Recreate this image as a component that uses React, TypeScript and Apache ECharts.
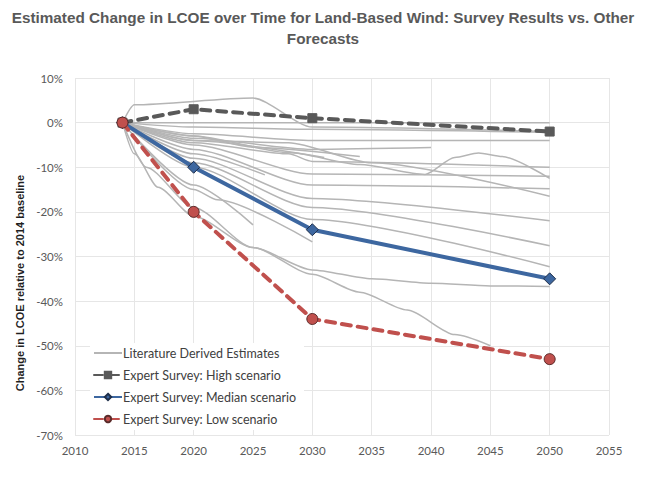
import React, { useEffect, useRef } from "react";
import * as echarts from "echarts";

const titleText =
  "Estimated Change in LCOE over Time for Land-Based Wind: Survey Results vs. Other\nForecasts";
const yAxisTitle = "Change in LCOE relative to 2014 baseline";

const xMin = 2010;
const xMax = 2055;
const xStep = 5;
const yMin = -70;
const yMax = 10;
const yStep = 10;

const litName = "Literature Derived Estimates";
const highName = "Expert Survey: High scenario";
const medianName = "Expert Survey: Median scenario";
const lowName = "Expert Survey: Low scenario";

const surveyYears = [2014, 2020, 2030, 2050];
const highScenario = [0, 3, 1, -2];
const medianScenario = [0, -10, -24, -35];
const lowScenario = [0, -20, -44, -53];

// Literature-derived estimates: [year, % change]
const lit01 = [[2014, 0], [2015, 4], [2025, 5.5], [2030, -1], [2050, -2]];
const lit02 = [[2014, 0], [2050, 0]];
const lit03 = [[2014, 0], [2020, -1], [2030, -1.5], [2050, -2.2]];
const lit04 = [[2014, 0], [2020, -2.5], [2030, -4], [2050, -4]];
const lit05 = [[2014, 0], [2020, -3.5], [2030, -6], [2040, -5.6]];
const lit06 = [[2014, 0], [2020, -4], [2031, -7.8]];
const lit07 = [[2014, 0], [2020, -3], [2025, -5.5], [2034, -7.6]];
const lit08 = [[2014, 0], [2020, -4.5], [2028, -7], [2030, -8.7], [2050, -10]];
const lit09 = [[2014, 0], [2020, -3], [2028, -6.7], [2034, -9.4], [2039.5, -11.6], [2042, -7.8], [2044, -6.8], [2046, -7.6], [2050, -12.5]];
const lit10 = [[2014, 0], [2020, -5], [2030, -11.5], [2050, -12]];
const lit11 = [[2014, 0], [2020, -4], [2028, -4.5], [2035, -9], [2050, -16.5]];
const lit12 = [[2014, 0], [2020, -6], [2030, -14], [2050, -14.8]];
const lit13 = [[2014, 0], [2020, -7], [2026, -11.7]];
const lit14 = [[2014, 0], [2020, -8], [2030, -17], [2050, -22]];
const lit15 = [[2014, 0], [2020, -9], [2030, -19], [2050, -27.6]];
const lit16 = [[2014, 0], [2020, -10], [2030, -21.7], [2050, -32.3]];
const lit17 = [[2014, 0], [2020, -14], [2025, -22.9]];
const lit18 = [[2014, 0], [2020, -15], [2022, -17.3], [2030, -26.7]];
const lit19 = [[2014, 0], [2015, -7], [2017, -14.5], [2020, -21], [2025, -28], [2030, -33], [2035, -35], [2040, -36], [2045, -36.6], [2050, -36.7]];
const lit20 = [[2014, 0], [2016, -10], [2020, -19], [2025, -28], [2030, -34], [2034, -38], [2038, -42], [2042, -47.5], [2045, -50]];

const literatureLines = [
  lit01, lit02, lit03, lit04, lit05, lit06, lit07, lit08, lit09, lit10,
  lit11, lit12, lit13, lit14, lit15, lit16, lit17, lit18, lit19, lit20,
];

const pair = (ys: number[]) => surveyYears.map((x, i) => [x, ys[i]]);

export default function App() {
  const ref = useRef<HTMLDivElement>(null);

  useEffect(() => {
    if (!ref.current) return;
    const chart = echarts.init(ref.current, undefined, { renderer: "svg" });
    const labelFont = "Lato";

    const litSeries = literatureLines.map((d) => ({
      type: "line",
      name: litName,
      data: d,
      symbol: "none",
      smooth: 0.25,
      smoothMonotone: "x",
      lineStyle: { color: "#b5b5b5", width: 1.5 },
      itemStyle: { color: "#b5b5b5" },
      z: 1,
      silent: true,
    }));

    chart.setOption({
      animation: false,
      backgroundColor: "#ffffff",
      title: {
        text: titleText,
        left: "center",
        top: 2,
        textStyle: {
          color: "#595959",
          fontSize: 15.3,
          fontWeight: "bold",
          fontFamily: "Liberation Sans",
          lineHeight: 21,
        },
      },
      grid: { left: 75, right: 37, top: 78, bottom: 42, containLabel: false },
      xAxis: {
        type: "value",
        min: xMin,
        max: xMax,
        interval: xStep,
        axisLine: { show: false },
        axisTick: { show: false },
        axisLabel: {
          color: "#595959",
          fontSize: 11.5,
          fontFamily: labelFont,
          margin: 9,
          formatter: (v: number) => String(v),
        },
        splitLine: { show: true, lineStyle: { color: "#e6e6e6", width: 1 } },
      },
      yAxis: {
        type: "value",
        min: yMin,
        max: yMax,
        interval: yStep,
        axisLine: { show: false },
        axisTick: { show: false },
        axisLabel: {
          color: "#595959",
          fontSize: 11.5,
          fontFamily: labelFont,
          margin: 12,
          formatter: "{value}%",
        },
        splitLine: { show: true, lineStyle: { color: "#e6e6e6", width: 1 } },
      },
      legend: {
        orient: "vertical",
        left: 90,
        top: 343,
        padding: [3, 8, 4, 3],
        backgroundColor: "#ffffff",
        itemWidth: 28,
        itemHeight: 8,
        itemGap: 8,
        textStyle: {
          color: "#404040",
          fontSize: 12.5,
          fontFamily: labelFont,
          padding: [0, 0, 0, -4],
          lineHeight: 14,
        },
        data: [
          { name: litName, itemStyle: { opacity: 0 } },
          { name: highName },
          { name: medianName },
          { name: lowName },
        ],
      },
      graphic: [
        {
          type: "text",
          x: 20,
          y: 283,
          rotation: Math.PI / 2,
          style: {
            text: yAxisTitle,
            fill: "#1f1f1f",
            font: 'bold 11px "Liberation Sans"',
            textAlign: "center",
            textVerticalAlign: "middle",
          },
        },
      ],
      series: [
        ...litSeries,
        {
          type: "line",
          name: highName,
          data: pair(highScenario),
          symbol: "rect",
          symbolSize: 9,
          lineStyle: { color: "#595959", width: 4, type: [9, 7], cap: "round" },
          itemStyle: { color: "#595959", borderColor: "#595959", borderWidth: 1 },
          z: 3,
        },
        {
          type: "line",
          name: medianName,
          data: pair(medianScenario),
          symbol: "diamond",
          symbolSize: 12,
          lineStyle: { color: "#3d67a0", width: 4 },
          itemStyle: { color: "#3d67a0", borderColor: "#1f2f4a", borderWidth: 1 },
          z: 4,
        },
        {
          type: "line",
          name: lowName,
          data: pair(lowScenario),
          symbol: "circle",
          symbolSize: 11,
          lineStyle: { color: "#c0504d", width: 4, type: [9, 7], cap: "round" },
          itemStyle: { color: "#c0504d", borderColor: "#5a2b2a", borderWidth: 1 },
          z: 5,
        },
      ],
    });

    return () => chart.dispose();
  }, []);

  return (
    <div
      ref={ref}
      style={{ position: "absolute", left: 0, top: 0, width: 646, height: 477 }}
    />
  );
}
